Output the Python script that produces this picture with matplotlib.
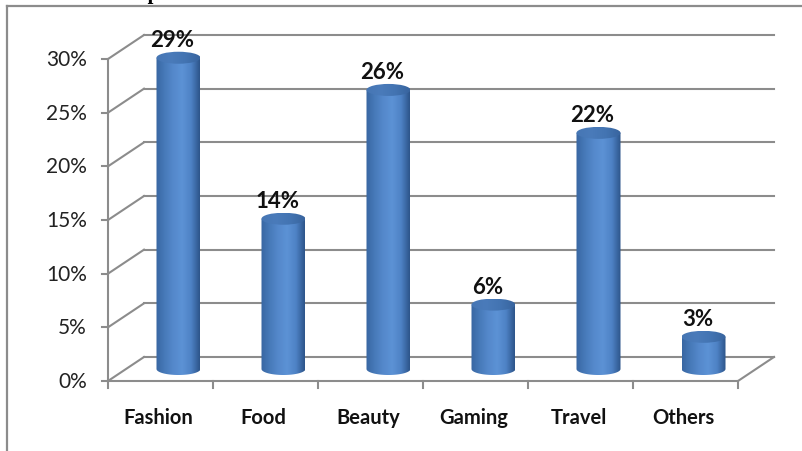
import numpy as np
import matplotlib.pyplot as plt
from matplotlib.patches import Polygon, Ellipse
from matplotlib.colors import LinearSegmentedColormap
from matplotlib.lines import Line2D

categories = ['Fashion', 'Food', 'Beauty', 'Gaming', 'Travel', 'Others']
shares = [29, 14, 26, 6, 22, 3]
y_ticks = [0, 5, 10, 15, 20, 25, 30]
y_labels = ['0%', '5%', '10%', '15%', '20%', '25%', '30%']

# pixel scale of the chart: 105 px per category, ~10.73 px per percent
PX_X = 105.0
PX_Y = 322.0 / 30.0
DX = 36 / PX_X       # depth offset of the back wall
DY = 24 / PX_Y
BAR_W = 44 / PX_X
ELL_H = 12 / PX_Y
GRID = '#8c8c8c'

body_cmap = LinearSegmentedColormap.from_list(
    'body', ['#3866a2', '#477ab9', '#5589cc', '#5c92d5', '#4e82c5', '#2c5489'])
top_cmap = LinearSegmentedColormap.from_list(
    'top', ['#4676b4', '#4a7bba', '#4374b2', '#38649e'])

fig = plt.figure(figsize=(8.03, 4.52), dpi=100)
ax = fig.add_axes([0, 0, 1, 1])
ax.set_xlim(-0.5 - 108 / PX_X, -0.5 + (803 - 108) / PX_X)
ax.set_ylim(-(452 - 382) / PX_Y, 30 + 60 / PX_Y)
ax.axis('off')

# outer frame of the chart area
fig.add_artist(Line2D([7 / 803, 7 / 803], [0, 1 - 7 / 452], color=GRID, lw=1.6,
                      transform=fig.transFigure))
fig.add_artist(Line2D([7 / 803, 1], [1 - 7 / 452, 1 - 7 / 452], color=GRID, lw=1.6,
                      transform=fig.transFigure))

# heading above the chart, mostly outside the figure
fig.text(238 / 803, 1 + 1 / 452, 'Areas of influencers preferred.', ha='right',
         va='baseline', family='Liberation Serif', weight='bold', fontsize=15)

x0, x1 = -0.5, len(categories) - 0.5
for v, lab in zip(y_ticks, y_labels):
    # back wall gridline and side-wall diagonal
    ax.plot([x0 + DX, x1 + DX], [v + DY, v + DY], color=GRID, lw=1.5, zorder=1)
    ax.plot([x0, x0 + DX], [v, v + DY], color=GRID, lw=1.5, zorder=1)
    ax.plot([x0 - 6 / PX_X, x0], [v, v], color=GRID, lw=1.5, zorder=1)
    ax.text(x0 - 21 / PX_X, v, lab, ha='right', va='center',
            family='Lato', fontsize=15, color='#222222')

# vertical axis, floor front edge and floor right edge
ax.plot([x0, x0], [0, 30], color=GRID, lw=1.5, zorder=1)
ax.plot([x0, x1], [0, 0], color=GRID, lw=1.5, zorder=1)
ax.plot([x1, x1 + DX], [0, DY], color=GRID, lw=1.5, zorder=1)
for k in range(len(categories) + 1):
    ax.plot([x0 + k, x0 + k], [0, -7 / PX_Y], color=GRID, lw=1.5, zorder=1)

for i, (name, val) in enumerate(zip(categories, shares)):
    ax.text(i - 2 / PX_X, -(418 - 382) / PX_Y, name, ha='center', va='center',
            family='Lato', weight='bold', fontsize=14.5, color='#111111')

    cx = i + DX / 2
    base = DY / 2
    top = val + DY / 2
    left, right = cx - BAR_W / 2, cx + BAR_W / 2

    # cylinder body: side rectangle plus lower half of the base ellipse
    t = np.linspace(np.pi, 2 * np.pi, 40)
    arc = np.column_stack([cx + BAR_W / 2 * np.cos(t), base + ELL_H / 2 * np.sin(t)])
    pts = np.vstack([[left, top], arc, [right, top]])
    body = Polygon(pts, closed=True, facecolor='none', edgecolor='none')
    ax.add_patch(body)
    grad = np.linspace(0, 1, 256).reshape(1, -1)
    im = ax.imshow(grad, cmap=body_cmap, aspect='auto', zorder=3,
                   extent=[left, right, base - ELL_H, top], interpolation='bicubic')
    im.set_clip_path(body)

    cap = Ellipse((cx, top), BAR_W, ELL_H, facecolor='none', edgecolor='none')
    ax.add_patch(cap)
    im2 = ax.imshow(grad, cmap=top_cmap, aspect='auto', zorder=4,
                    extent=[left, right, top - ELL_H / 2, top + ELL_H / 2],
                    interpolation='bicubic')
    im2.set_clip_path(cap)

    ax.text(cx - 6 / PX_X, top + ELL_H / 2 + 6 / PX_Y, f'{val}%', ha='center',
            va='baseline', family='Lato', weight='bold', fontsize=16, color='#111111',
            zorder=5)

fig.savefig('out.png', dpi=100)
